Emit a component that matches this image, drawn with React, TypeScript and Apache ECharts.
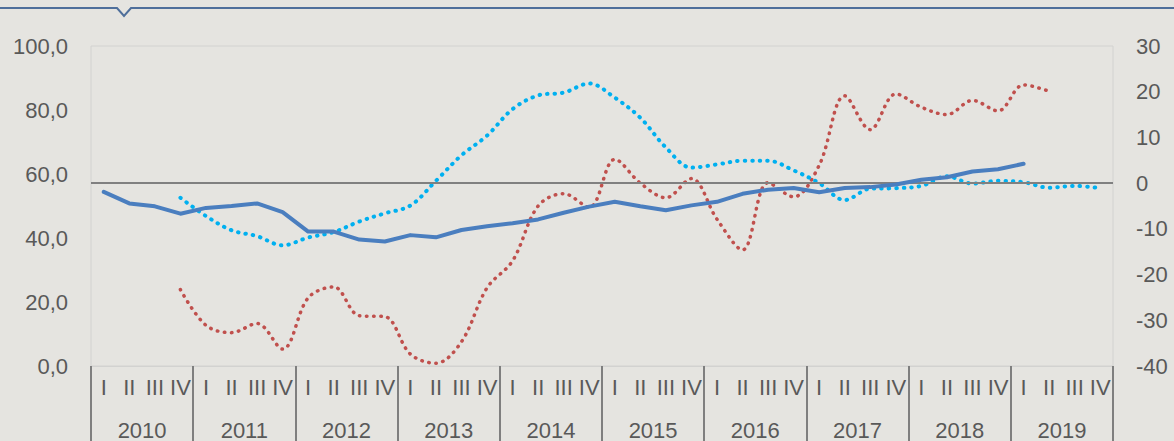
import React, { useEffect, useRef } from "react";
import * as echarts from "echarts";

const years = ["2010", "2011", "2012", "2013", "2014", "2015", "2016", "2017", "2018", "2019"];
const quarters = ["I", "II", "III", "IV"];
const leftTicks = { min: 0, max: 100, interval: 20 };
const rightTicks = { min: -40, max: 30, interval: 10 };

const blueValues = [54.4, 50.8, 49.9, 47.6, 49.4, 50.0, 50.8, 48.1, 42.0, 42.0, 39.5, 38.9, 40.9, 40.2, 42.5, 43.7, 44.6, 45.8, 47.9, 49.8, 51.3, 49.9, 48.7, 50.2, 51.3, 53.8, 55.1, 55.6, 54.3, 55.6, 55.9, 56.7, 58.2, 59.0, 60.8, 61.5, 63.2, null, null, null];
const cyanValues = [null, null, null, -3.2, -7.2, -10.3, -11.6, -13.6, -11.9, -10.7, -8.4, -6.6, -4.9, 0.5, 6.1, 10.4, 16.2, 19.2, 19.8, 21.8, 18.7, 14.3, 7.8, 3.4, 4.1, 4.9, 4.9, 2.8, 0.0, -3.7, -1.2, -1.1, -0.6, 1.5, -0.1, 0.5, 0.2, -1.0, -0.6, -1.1];
const redValues = [null, null, null, -23.3, -31.1, -32.7, -30.7, -36.3, -25.1, -22.7, -29.0, -29.2, -37.4, -39.4, -34.7, -22.9, -17.0, -5.0, -2.3, -5.3, 5.2, 0.0, -3.2, 1.0, -7.9, -14.6, 0.1, -3.0, 3.9, 19.1, 11.7, 19.5, 16.6, 15.0, 18.1, 15.8, 21.5, 20.1, null, null];

const categories = years.flatMap(() => quarters.map((q) => q));

const FONT = "'Liberation Sans', Arial, sans-serif";
const TEXT = "#595959";
const FS = 22;

export default function App() {
  const ref = useRef<HTMLDivElement>(null);
  useEffect(() => {
    if (!ref.current) return;
    const chart = echarts.init(ref.current, null, { renderer: "svg" });
    chart.setOption({
      animation: false,
      backgroundColor: "#e5e4e0",
      textStyle: { fontFamily: FONT },
      grid: {
        left: 91,
        right: 61,
        top: 46,
        bottom: 73,
        show: true,
        borderColor: "#d2d2d0",
        borderWidth: 1,
        backgroundColor: "transparent",
      },
      graphic: [
        {
          type: "polyline",
          shape: { points: [[0, 8], [117, 8], [124, 16], [131, 8], [1174, 8]] },
          style: { stroke: "#4f6f9b", lineWidth: 2, fill: null },
          z: 10,
        },
      ],
      xAxis: [
        {
          type: "category",
          data: categories,
          position: "bottom",
          boundaryGap: true,
          axisLine: { show: true, onZero: false, lineStyle: { color: "#d2d2d0", width: 1 } },
          axisTick: { show: false },
          axisLabel: { interval: 0, color: TEXT, fontSize: FS, fontFamily: FONT, margin: 10 },
          splitLine: { show: false },
        },
        {
          type: "category",
          data: years,
          position: "bottom",
          boundaryGap: true,
          axisLine: { show: false, onZero: false },
          axisTick: { show: true, interval: 0, length: 80, lineStyle: { color: "#7f7f7f", width: 2 } },
          axisLabel: { interval: 0, color: TEXT, fontSize: FS, fontFamily: FONT, margin: 53 },
          splitLine: { show: false },
        },
      ],
      yAxis: [
        {
          type: "value",
          position: "left",
          min: leftTicks.min,
          max: leftTicks.max,
          interval: leftTicks.interval,
          axisLine: { show: false },
          axisTick: { show: false },
          splitLine: { show: false },
          axisLabel: {
            color: TEXT,
            fontSize: FS,
            fontFamily: FONT,
            margin: 23,
            formatter: (v: number) => v.toFixed(1).replace(".", ","),
          },
        },
        {
          type: "value",
          position: "right",
          min: rightTicks.min,
          max: rightTicks.max,
          interval: rightTicks.interval,
          axisLine: { show: false },
          axisTick: { show: false },
          splitLine: { show: false },
          axisLabel: { color: TEXT, fontSize: FS, fontFamily: FONT, margin: 23, align: "left" },
        },
      ],
      series: [
        {
          type: "line",
          xAxisIndex: 0,
          yAxisIndex: 1,
          data: redValues,
          smooth: 0.35,
          showSymbol: false,
          symbol: "none",
          connectNulls: false,
          lineStyle: { color: "#c0504d", width: 3.5, type: [0.5, 6.6], cap: "round" },
          markLine: {
            silent: true,
            symbol: ["none", "none"],
            label: { show: false },
            lineStyle: { color: "#808080", width: 2, type: "solid" },
            data: [{ yAxis: 0 }],
          },
          z: 3,
        },
        {
          type: "line",
          xAxisIndex: 0,
          yAxisIndex: 1,
          data: cyanValues,
          smooth: 0.35,
          showSymbol: false,
          symbol: "none",
          lineStyle: { color: "#00b0f0", width: 4, type: [0.5, 7], cap: "round" },
          z: 4,
        },
        {
          type: "line",
          xAxisIndex: 0,
          yAxisIndex: 0,
          data: blueValues,
          showSymbol: false,
          symbol: "none",
          lineStyle: { color: "#4a7ebf", width: 4, cap: "round", join: "round" },
          z: 5,
        },
      ],
    });
    return () => chart.dispose();
  }, []);
  return (
    <div
      ref={ref}
      style={{ position: "fixed", left: 0, top: 0, width: 1174, height: 441 }}
    />
  );
}
